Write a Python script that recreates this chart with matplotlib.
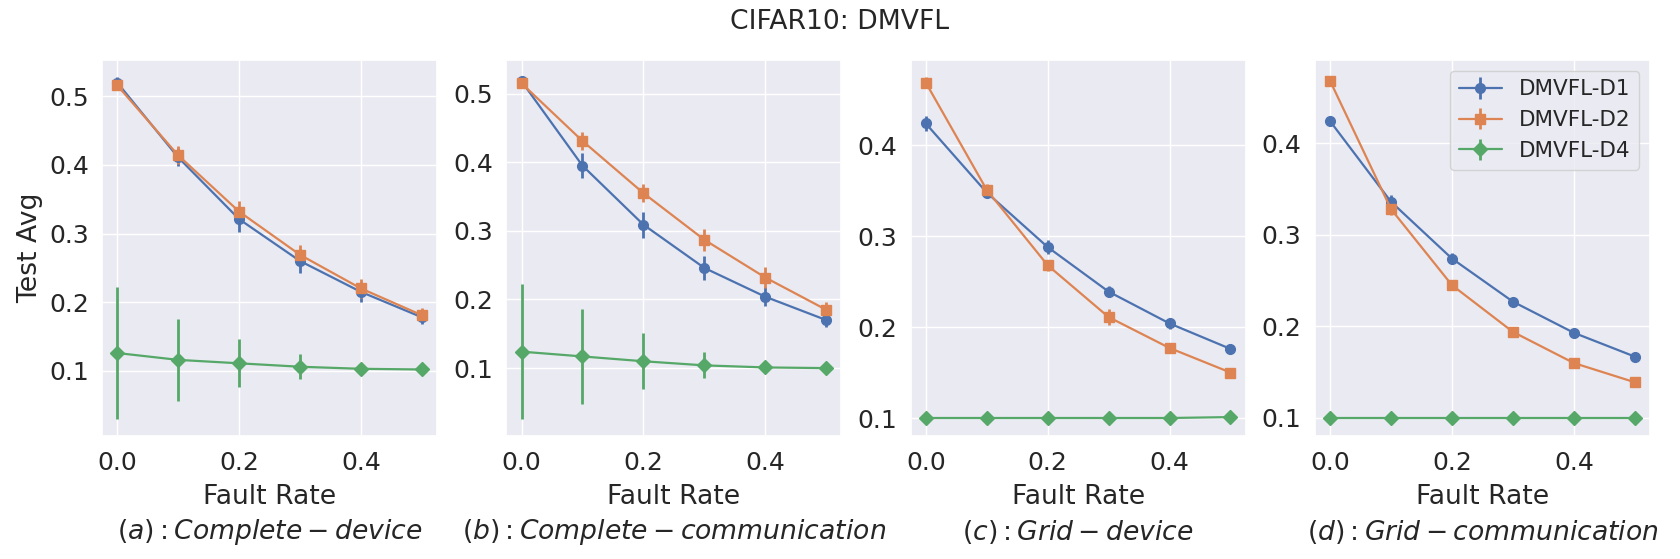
import matplotlib
matplotlib.use("Agg")
import matplotlib.pyplot as plt
import seaborn as sns

sns.set_theme(style="darkgrid")
plt.rcParams['font.family'] = ['DejaVu Sans']

fault_rate = [0.0, 0.1, 0.2, 0.3, 0.4, 0.5]
series_names = ["DMVFL-D1", "DMVFL-D2", "DMVFL-D4"]
panel_titles = [r"$(a): Complete-device$", r"$(b): Complete-communication$",
                r"$(c): Grid-device$", r"$(d): Grid-communication$"]

# (a) complete - device
a_d1 = [0.520, 0.411, 0.321, 0.260, 0.215, 0.178]
a_d1_err = [0.008, 0.013, 0.018, 0.018, 0.014, 0.010]
a_d2 = [0.516, 0.414, 0.332, 0.269, 0.220, 0.181]
a_d2_err = [0.005, 0.013, 0.015, 0.014, 0.014, 0.010]
a_d4 = [0.126, 0.116, 0.111, 0.106, 0.103, 0.102]
a_d4_err = [0.096, 0.060, 0.035, 0.018, 0.005, 0.003]

# (b) complete - communication
b_d1 = [0.518, 0.395, 0.309, 0.246, 0.204, 0.170]
b_d1_err = [0.006, 0.018, 0.019, 0.018, 0.014, 0.010]
b_d2 = [0.515, 0.431, 0.355, 0.287, 0.232, 0.185]
b_d2_err = [0.004, 0.013, 0.013, 0.016, 0.016, 0.011]
b_d4 = [0.124, 0.117, 0.110, 0.104, 0.101, 0.100]
b_d4_err = [0.098, 0.069, 0.041, 0.019, 0.005, 0.003]

# (c) grid - device
c_d1 = [0.424, 0.348, 0.288, 0.239, 0.204, 0.176]
c_d1_err = [0.008, 0.005, 0.008, 0.006, 0.006, 0.005]
c_d2 = [0.469, 0.351, 0.268, 0.211, 0.177, 0.150]
c_d2_err = [0.006, 0.006, 0.006, 0.009, 0.006, 0.003]
c_d4 = [0.100, 0.100, 0.100, 0.100, 0.100, 0.101]
c_d4_err = [0.001, 0.001, 0.001, 0.001, 0.001, 0.001]

# (d) grid - communication
d_d1 = [0.424, 0.336, 0.274, 0.227, 0.193, 0.167]
d_d1_err = [0.005, 0.007, 0.006, 0.004, 0.004, 0.003]
d_d2 = [0.468, 0.328, 0.245, 0.194, 0.160, 0.139]
d_d2_err = [0.004, 0.007, 0.003, 0.003, 0.003, 0.003]
d_d4 = [0.100, 0.100, 0.100, 0.100, 0.100, 0.100]
d_d4_err = [0.001, 0.001, 0.001, 0.001, 0.001, 0.001]

panels = [
    [(a_d1, a_d1_err), (a_d2, a_d2_err), (a_d4, a_d4_err)],
    [(b_d1, b_d1_err), (b_d2, b_d2_err), (b_d4, b_d4_err)],
    [(c_d1, c_d1_err), (c_d2, c_d2_err), (c_d4, c_d4_err)],
    [(d_d1, d_d1_err), (d_d2, d_d2_err), (d_d4, d_d4_err)],
]

colors = ["#4C72B0", "#DD8452", "#55A868"]
markers = ["o", "s", "D"]

fig, axes = plt.subplots(1, 4, figsize=(16.8, 5.59), dpi=100)
fig.subplots_adjust(left=102/1680, right=1650/1680, top=1-60/559, bottom=1-436/559, wspace=0.206)

for i, ax in enumerate(axes):
    for j, (vals, errs) in enumerate(panels[i]):
        ax.errorbar(fault_rate, vals, yerr=errs, color=colors[j], marker=markers[j],
                    markersize=7, linewidth=1.6, elinewidth=2, capsize=0, label=series_names[j])
    ax.set_xticks([0.0, 0.2, 0.4])
    ax.tick_params(labelsize=18)
    ax.tick_params(axis="x", pad=5)
    ax.set_xlabel("Fault Rate", fontsize=19.2, labelpad=6)
    ax.text(0.5, -0.255, panel_titles[i], transform=ax.transAxes, ha="center", va="center", fontsize=19.2)

axes[0].set_ylabel("Test Avg", fontsize=19.2)
axes[3].legend(loc="upper right", fontsize=15.5)
fig.suptitle("CIFAR10: DMVFL", fontsize=19.2, y=1-22/559, va="center")

plt.savefig("out.png")
